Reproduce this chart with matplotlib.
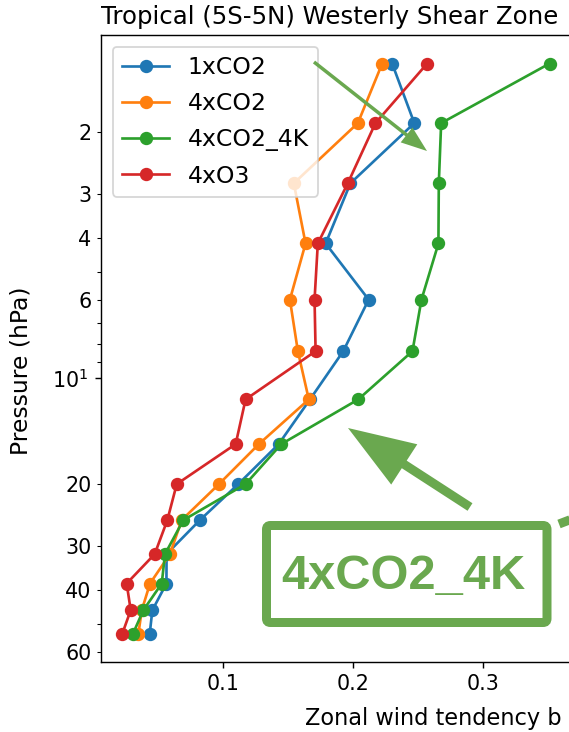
import matplotlib
matplotlib.use('Agg')
import matplotlib.pyplot as plt
from matplotlib.patches import FancyArrow, FancyBboxPatch
from matplotlib.lines import Line2D
from matplotlib.transforms import IdentityTransform
from matplotlib.ticker import FuncFormatter, MultipleLocator
import math

# pressure levels (hPa) and zonal wind tendency per experiment
pressure = [1.28, 1.89, 2.80, 4.15, 5.99, 8.39, 11.5, 15.4, 20.0, 25.3, 31.6, 38.3, 45.6, 53.1]
co2_1x = [0.230, 0.247, 0.198, 0.179, 0.212, 0.1925, 0.167, 0.143, 0.112, 0.0826, 0.057, 0.0569, 0.0461, 0.0441]
co2_4x = [0.2224, 0.2037, 0.1546, 0.1636, 0.1516, 0.1577, 0.1661, 0.1278, 0.0972, 0.0686, 0.0596, 0.0443, 0.038, 0.0354]
co2_4x_4k = [0.3508, 0.2676, 0.2658, 0.2655, 0.2525, 0.2456, 0.204, 0.145, 0.1176, 0.0699, 0.0558, 0.0533, 0.0392, 0.0313]
o3_4x = [0.2569, 0.2172, 0.196, 0.173, 0.1705, 0.1713, 0.1176, 0.110, 0.0648, 0.0576, 0.0479, 0.0264, 0.0295, 0.0231]
labels = ['1xCO2', '4xCO2', '4xCO2_4K', '4xO3']

W, H = 569, 732
DPI = 128
green = '#6aa84f'
fs = 11.6   # tick labels
lfs = 13.2  # axis labels / legend

plt.rcParams['font.size'] = fs

fig = plt.figure(figsize=(W / DPI, H / DPI), dpi=DPI, facecolor='w')
# axes runs a little past the right edge (picture is cropped)
ax = fig.add_axes([101 / W, 1 - 662 / H, 470 / W, 627 / H])

for vals, lab in zip([co2_1x, co2_4x, co2_4x_4k, o3_4x], labels):
    ax.plot(vals, pressure, marker='o', ms=6.5, label=lab)

ax.set_yscale('log')
ax.invert_yaxis()


def minor_fmt(v, pos):
    c = v / 10 ** math.floor(math.log10(v) + 1e-9)
    if round(c) in (2, 3, 4, 6) and abs(c - round(c)) < 1e-6:
        return '%g' % v
    return ''


ax.yaxis.set_minor_formatter(FuncFormatter(minor_fmt))
ax.xaxis.set_major_locator(MultipleLocator(0.1))
ax.tick_params(labelsize=fs)
ax.set_ylabel('Pressure (hPa)', fontsize=lfs)
ax.yaxis.set_label_coords(-0.145, 0.464)
ax.set_title('Tropical (5S-5N) Westerly Shear Zone', fontsize=13.7, x=0.487)
ax.legend(loc='upper left', fontsize=lfs, labelspacing=0.56)

# x label is cropped in the source; keep the visible part inside the canvas
fig.text(305 / W, 1 - 725 / H, 'Zonal wind tendency b', fontsize=12.7, va='baseline', ha='left')

# annotation overlay, in pixel coords (y from top)
ident = IdentityTransform()


def arrow(x0, y0, x1, y1, w, hw, hl):
    a = FancyArrow(x0, H - y0, x1 - x0, y0 - y1, width=w, head_width=hw, head_length=hl,
                   length_includes_head=True, color=green, lw=0, transform=ident)
    fig.add_artist(a)


arrow(314, 62, 427, 151, 3.5, 19, 26)
arrow(470, 507, 348, 428, 9, 48, 67)

box = FancyBboxPatch((266.5, H - 622.5), 280.5, 97, boxstyle='round,pad=0,rounding_size=4',
                     fc='none', ec=green, lw=9 * 72 / DPI, transform=ident)
fig.add_artist(box)
fig.text(403 / W, 1 - 589 / H, '4xCO2_4K', color=green, fontsize=27.5, fontweight='bold',
         family='Liberation Sans', ha='center', va='baseline')

frag = Line2D([559, 572], [H - 524, H - 519], lw=9 * 72 / DPI, color=green,
              solid_capstyle='butt', transform=ident)
fig.add_artist(frag)

plt.savefig('out.png', dpi=DPI)
